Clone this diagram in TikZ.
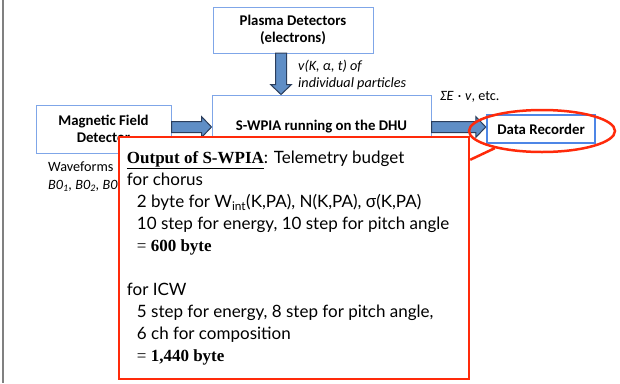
\documentclass[tikz,border=0pt]{standalone}
\usepackage{fontspec}
\setmainfont{Carlito}
\newfontfamily\budgetfont{Lato}
\newfontfamily\boldserif{Liberation Serif}
\newfontfamily\sigmafont{Liberation Sans}
\usetikzlibrary{calc,shapes.geometric}

\definecolor{boxblue}{HTML}{7FA6E8}
\definecolor{recblue}{HTML}{4D86E6}
\definecolor{arrowfill}{HTML}{5F8EC6}
\definecolor{arrowline}{HTML}{2B3E5C}
\definecolor{calloutred}{HTML}{FF2A0A}

\tikzset{
    detbox/.style={draw=boxblue, line width=1pt, fill=white, align=center, inner sep=0pt,
        font=\bfseries\fontsize{14.8}{17.5}\selectfont},
    recbox/.style={detbox, draw=recblue, line width=2.5pt},
    arrowbody/.style={fill=arrowfill, draw=arrowline, line width=1pt, line join=miter},
    budgetbox/.style={draw=calloutred, line width=2.5pt, fill=white, inner sep=0pt},
    note/.style={anchor=west, align=left, inner sep=0pt, font=\fontsize{14.2}{16.5}\selectfont}
}

% block arrow from #1 to #2
\newcommand{\blockarrow}[2]{%
    \coordinate (headbase) at ($(#2)!10pt!(#1)$);
    \draw[arrowbody] ($(#1)!5.5pt!90:(#2)$) -- ($(headbase)!5.5pt!90:(#2)$)
        -- ($(headbase)!10.5pt!90:(#2)$) -- (#2)
        -- ($(headbase)!10.5pt!-90:(#2)$) -- ($(headbase)!5.5pt!-90:(#2)$)
        -- ($(#1)!5.5pt!-90:(#2)$) -- cycle;}

\begin{document}
\begin{tikzpicture}[x=1pt, y=-1pt]
    \useasboundingbox (0,0) rectangle (620,383);
    \draw[gray, line width=2pt] (3,0) -- (3,383);

    \node[detbox, minimum width=160, minimum height=46] (plasma) at (293,30) {Plasma Detectors\\(electrons)};
    \node[detbox, minimum width=219, minimum height=64] (wpia) at (321.5,127) {S-WPIA running on the DHU};
    \node[detbox, minimum width=135, minimum height=48] (mag) at (103.5,129) {Magnetic Field\\Detector};
    \node[recbox, minimum width=108, minimum height=28] (rec) at (541,129) {Data Recorder};

    \node[note] (wave) at (48,167) {Waveforms};
    \node[note, font=\itshape\fontsize{14.2}{16.5}\selectfont] (bzero) at (48,186)
        {B0\textsubscript{1}, B0\textsubscript{2}, B0\textsubscript{3}};
    \node[note, font=\itshape\fontsize{14.2}{16.5}\selectfont] (vlabel) at (298,75) {v(K, α, t) of\\individual particles};
    \node[note] (sumlabel) at (440,97) {\textit{ΣE\hspace{4pt}·\hspace{4pt}v}, etc.};

    % block arrows
    \coordinate (dtop) at (281,53);
    \coordinate (dbot) at (dtop |- wpia.north);
    \coordinate (magout) at (mag.east |- wpia.west);
    \coordinate (recin) at (rec.west |- wpia.east);
    \blockarrow{dtop}{dbot}
    \blockarrow{magout}{wpia.west}
    \blockarrow{wpia.east}{recin}

    % telemetry budget callout
    \node[budgetbox, minimum width=350, minimum height=242] (budget) at (294,258) {};
    \node[anchor=north west, align=left, inner sep=0pt,
        font=\budgetfont\fontsize{17}{22}\selectfont] (budgettext) at ($(budget.north west)+(9,15)$)
        {{\boldserif\bfseries\underline{Output of S-WPIA}}: Telemetry budget\\
        for chorus\\
        \hspace*{10pt}2 byte for W\textsubscript{int}(K,PA), N(K,PA), {\sigmafont σ}(K,PA)\\
        \hspace*{10pt}10 step for energy, 10 step for pitch angle\\
        \hspace*{10pt}{\boldserif = \bfseries 600 byte}\\[22pt]
        for ICW\\
        \hspace*{10pt}5 step for energy, 8 step for pitch angle,\\
        \hspace*{10pt}6 ch for composition\\
        \hspace*{10pt}{\boldserif = \bfseries 1,440 byte}};

    \node[draw=calloutred, line width=2.5pt, ellipse, inner sep=0pt,
        minimum width=146, minimum height=42] (ring) at (542,131) {};
    \draw[calloutred, line width=2.5pt] ($(budget.north east)+(0,24)$) -- (ring.200);
\end{tikzpicture}
\end{document}
